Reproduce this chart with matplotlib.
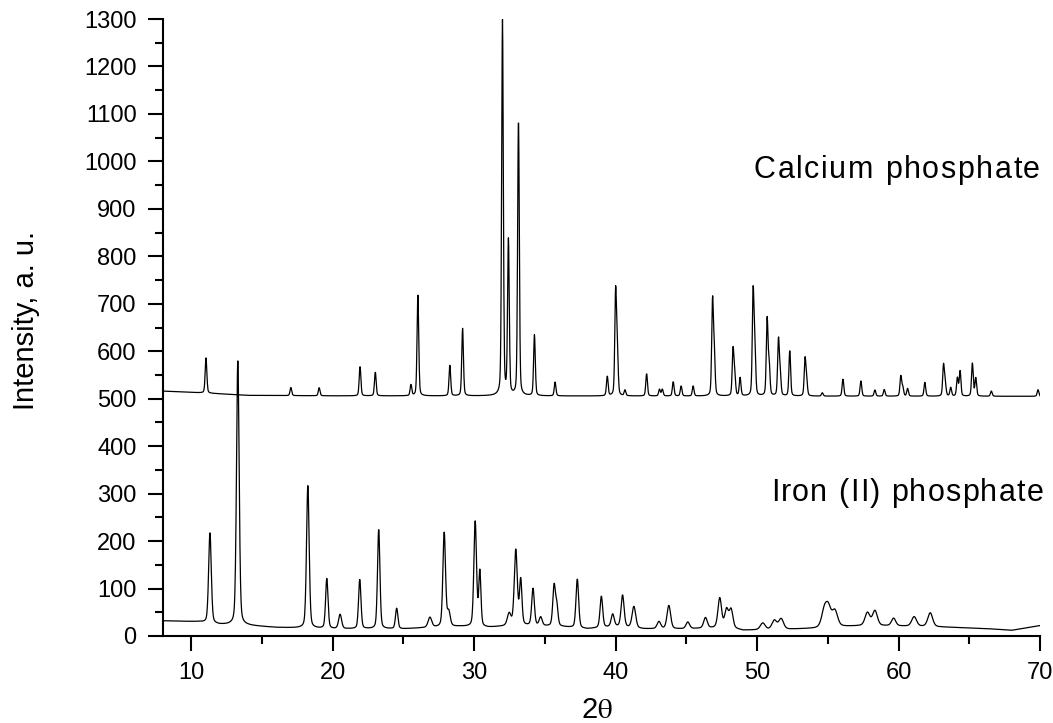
import numpy as np
import matplotlib
matplotlib.use("Agg")
import matplotlib.pyplot as plt
from matplotlib.ticker import MultipleLocator
from matplotlib import transforms

# Peak list (2theta, height above background)
ca_pos = [11.04, 17.04, 19.04, 21.93, 23.01, 25.53, 26.02, 28.28, 29.18,
          32.00, 32.42, 33.13, 34.26, 35.72, 39.41, 40.00, 40.12, 40.66,
          42.19, 43.10, 43.30, 44.07, 44.63, 45.48, 46.85, 46.97, 48.30,
          48.42, 48.80, 49.72, 49.84, 50.71, 50.85, 51.51, 51.63, 52.31,
          53.39, 53.50, 54.61, 56.07, 57.34, 58.33, 58.99, 60.16, 60.30,
          60.64, 61.86, 63.18, 63.30, 63.69, 64.16, 64.35, 65.22, 65.46,
          66.56, 69.86]
ca_height = [74, 17, 17, 62, 50, 23, 212, 64, 142,
             790, 325, 582, 128, 29, 41, 218, 85, 12,
             47, 14, 14, 30, 21, 21, 196, 85, 97,
             40, 38, 216, 95, 161, 65, 116, 45, 96,
             76, 30, 7, 36, 32, 13, 14, 42, 18,
             16, 29, 65, 25, 18, 38, 53, 69, 38,
             11, 14]
# background of the calcium phosphate trace (2theta, intensity)
ca_bg_x = [8, 11, 14, 20, 70]
ca_bg_y = [516, 512, 507, 506, 505]

fe_pos = [11.32, 13.29, 18.24, 19.58, 20.52, 21.91, 23.25, 24.52, 26.87,
          27.88, 28.20, 30.07, 30.40, 32.47, 32.94, 33.29, 34.16, 34.70,
          35.65, 35.84, 37.29, 38.99, 39.79, 40.49, 41.29, 43.06, 43.76,
          45.10, 46.35, 47.36, 47.84, 48.16, 50.40, 51.22, 51.70, 54.75,
          55.04, 55.50, 57.80, 58.33, 59.65, 61.10, 62.24]
fe_height = [190, 560, 300, 105, 30, 104, 210, 43, 21,
             198, 30, 222, 115, 25, 158, 95, 78, 18,
             85, 40, 103, 66, 26, 67, 45, 15, 49,
             14, 22, 62, 37, 38, 14, 19, 22, 34,
             38, 33, 27, 31, 16, 20, 29]
fe_width = [0.22, 0.22, 0.22, 0.2, 0.25, 0.2, 0.2, 0.2, 0.3,
            0.22, 0.25, 0.22, 0.18, 0.3, 0.25, 0.2, 0.22, 0.25,
            0.22, 0.2, 0.22, 0.22, 0.25, 0.25, 0.3, 0.3, 0.3,
            0.3, 0.3, 0.3, 0.3, 0.3, 0.4, 0.4, 0.4, 0.45,
            0.45, 0.45, 0.4, 0.4, 0.35, 0.4, 0.4]
fe_bg_x = [8, 10.5, 12, 14, 16, 20, 25, 27, 29, 31, 33, 36, 38, 40, 42,
           45, 48, 49, 52, 54, 56, 58, 62, 66, 68, 70]
fe_bg_y = [32, 30, 24, 22, 18, 15, 15, 18, 20, 18, 22, 20, 15, 20, 15,
           15, 18, 12, 14, 16, 20, 22, 20, 16, 12, 22]

ca_width = 0.14


def pattern(two_theta, pos, height, width, bg_x, bg_y, eta=0.3):
    # background plus pseudo-Voigt peaks
    y = np.interp(two_theta, bg_x, bg_y)
    width = np.broadcast_to(width, len(pos))
    for c, h, w in zip(pos, height, width):
        u = (two_theta - c) / w
        lor = 1 / (1 + 4 * u ** 2)
        gau = np.exp(-4 * np.log(2) * u ** 2)
        y = y + h * (eta * lor + (1 - eta) * gau)
    return y


def spaced_text(fig, ax, x, y, s, size, gap):
    # right-aligned text at (x, y) with extra gap (pixels) between letters
    renderer = fig.canvas.get_renderer()

    def width(t):
        tmp = fig.text(0, 0, t, fontsize=size)
        w = tmp.get_window_extent(renderer).width
        tmp.remove()
        return w

    ref = width('I')
    starts = [width(s[:i] + 'I') - ref for i in range(len(s))]
    starts = [st + i * gap for i, st in enumerate(starts)]
    total = starts[-1] + width(s[-1])
    for ch, st in zip(s, starts):
        tr = transforms.offset_copy(ax.transData, fig=fig, x=st - total,
                                    y=0, units='dots')
        ax.text(x, y, ch, transform=tr, ha='left', va='baseline',
                fontsize=size)


two_theta = np.arange(8, 70.0001, 0.02)
ca_curve = pattern(two_theta, ca_pos, ca_height, ca_width, ca_bg_x, ca_bg_y)
fe_curve = pattern(two_theta, fe_pos, fe_height, fe_width, fe_bg_x, fe_bg_y)

plt.rcParams['font.family'] = ['Liberation Sans', 'DejaVu Sans']
plt.rcParams['mathtext.fontset'] = 'stix'

fig = plt.figure(figsize=(10.53, 7.23), dpi=100)
ax = fig.add_axes([163 / 1053, 1 - 636 / 723, 877 / 1053, 617 / 723])

ax.plot(two_theta, ca_curve, color='black', lw=0.9)
ax.plot(two_theta, fe_curve, color='black', lw=0.9)

ax.set_xlim(8, 70)
ax.set_ylim(0, 1300)
ax.xaxis.set_major_locator(MultipleLocator(10))
ax.xaxis.set_minor_locator(MultipleLocator(5))
ax.yaxis.set_major_locator(MultipleLocator(100))
ax.yaxis.set_minor_locator(MultipleLocator(50))

for side in ['top', 'right']:
    ax.spines[side].set_visible(False)
for side in ['left', 'bottom']:
    ax.spines[side].set_linewidth(1.5)
ax.tick_params(which='major', direction='out', length=11, width=1.5,
               labelsize=17, pad=8)
ax.tick_params(which='minor', direction='out', length=6, width=1.5)

spaced_text(fig, ax, 70, 965, 'Calcium phosphate', 22, 1.6)
spaced_text(fig, ax, 70.25, 285, 'Iron (II) phosphate', 22, 1.3)

fig.text(26 / 1053, 1 - 321 / 723, 'Intensity, a. u.', rotation=90,
         ha='center', va='center', fontsize=21)
fig.text(597 / 1053, 1 - 710 / 723, r'2$\mathrm{\theta}$', ha='center',
         va='center', fontsize=21)

fig.savefig('out.png', dpi=100)
plt.close(fig)
